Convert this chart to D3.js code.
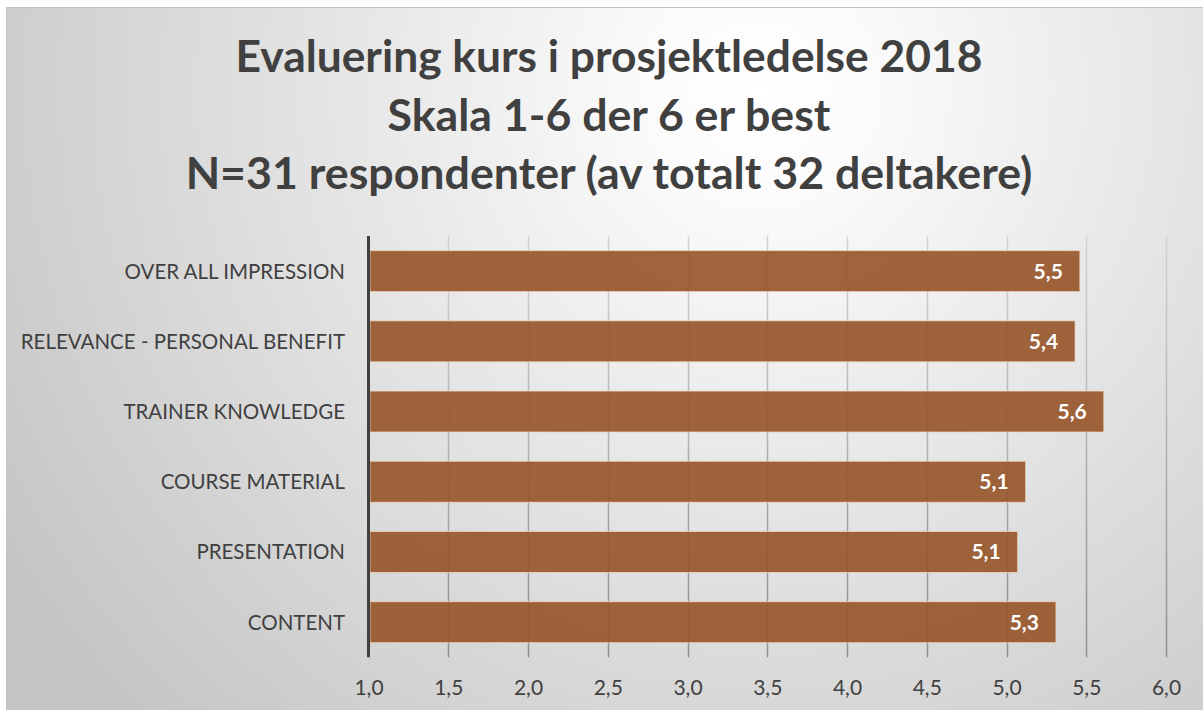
<!DOCTYPE html>
<html>
<head>
    <meta charset="UTF-8">
    <title>Evaluering kurs i prosjektledelse 2018</title>
    <style>
        body { margin: 0; background: #fff; font-family: Lato, 'Open Sans', sans-serif; }
        .title text { font-weight: bold; fill: #404040; text-anchor: middle; }
        .cat text { fill: #404040; text-anchor: end; font-size: 20.5px; }
        .tick text { fill: #404040; font-size: 21px; }
        .barlabel { fill: #fff; font-weight: bold; font-size: 21px; text-anchor: end; }
    </style>
</head>
<body>
    <script src="https://d3js.org/d3.v7.min.js"></script>
    <script>
        /// data
        var categories = ["OVER ALL IMPRESSION", "RELEVANCE - PERSONAL BENEFIT", "TRAINER KNOWLEDGE",
                          "COURSE MATERIAL", "PRESENTATION", "CONTENT"];
        var scores = [5.46, 5.43, 5.61, 5.12, 5.07, 5.31];
        var scoreLabels = ["5,5", "5,4", "5,6", "5,1", "5,1", "5,3"];
        var xTicks = [1.0, 1.5, 2.0, 2.5, 3.0, 3.5, 4.0, 4.5, 5.0, 5.5, 6.0];
        var titleLines = ["Evaluering kurs i prosjektledelse 2018",
                          "Skala 1-6 der 6 er best",
                          "N=31 respondenter (av totalt 32 deltakere)"];

        var width = 1203, height = 710;
        var plot = {left: 368.5, right: 1166, top: 236, bottom: 657.3};

        var svg = d3.select("body").append("svg")
            .attr("width", width)
            .attr("height", height);

        var defs = svg.append("defs");
        var bg = defs.append("radialGradient")
            .attr("id", "bg")
            .attr("gradientUnits", "userSpaceOnUse")
            .attr("cx", 760).attr("cy", 90).attr("r", 900);
        bg.append("stop").attr("offset", 0).attr("stop-color", "#ffffff");
        bg.append("stop").attr("offset", 0.12).attr("stop-color", "#fbfbfb");
        bg.append("stop").attr("offset", 1).attr("stop-color", "#c4c4c4");

        var gridGrad = defs.append("linearGradient")
            .attr("id", "gridgrad")
            .attr("gradientUnits", "userSpaceOnUse")
            .attr("x1", 0).attr("y1", plot.top).attr("x2", 0).attr("y2", plot.bottom);
        gridGrad.append("stop").attr("offset", 0).attr("stop-color", "#d2d2d2");
        gridGrad.append("stop").attr("offset", 1).attr("stop-color", "#8e8e8e");

        // chart area
        svg.append("rect")
            .attr("x", 6.5).attr("y", 7.5)
            .attr("width", width + 20).attr("height", height + 20)
            .attr("fill", "url(#bg)")
            .attr("stroke", "#c4c4c4");

        // title, each line fitted to its width in the picture
        var titleBase = [72, 131, 189];
        var titleWidth = [747, 443, 847];
        var title = svg.append("g").attr("class", "title");
        titleLines.forEach(function(t, i) {
            var txt = title.append("text")
                .attr("x", 609)
                .attr("y", titleBase[i])
                .style("font-size", "40px")
                .text(t);
            var w = txt.node().getComputedTextLength();
            txt.style("font-size", (40 * titleWidth[i] / w) + "px");
        });

        var x = d3.scaleLinear()
            .domain([1, 6])
            .range([plot.left, plot.right]);

        var y = d3.scaleBand()
            .domain(categories)
            .range([plot.top, plot.bottom])
            .paddingInner(0.416)
            .paddingOuter(0.208);

        // gridlines
        svg.append("g")
            .selectAll("line")
            .data(xTicks.slice(1))
            .enter().append("line")
            .attr("x1", function(d) { return Math.round(x(d)) + 0.5; })
            .attr("x2", function(d) { return Math.round(x(d)) + 0.5; })
            .attr("y1", plot.top)
            .attr("y2", plot.bottom)
            .attr("stroke", "url(#gridgrad)")
            .attr("stroke-width", 1.5);

        // bars
        svg.append("g")
            .selectAll("rect")
            .data(scores)
            .enter().append("rect")
            .attr("x", x(1) + 1.5)
            .attr("y", function(d, i) { return y(categories[i]); })
            .attr("width", function(d) { return x(d) - x(1) - 1.5; })
            .attr("height", y.bandwidth())
            .attr("fill", "#98572c")
            .attr("fill-opacity", 0.92)
            .attr("stroke", "#f3d9c6")
            .attr("stroke-opacity", 0.75)
            .attr("stroke-width", 1);

        // value labels
        svg.append("g")
            .selectAll("text")
            .data(scores)
            .enter().append("text")
            .attr("class", "barlabel")
            .attr("x", function(d) { return x(d) - 17; })
            .attr("y", function(d, i) { return y(categories[i]) + y.bandwidth() / 2 + 7.5; })
            .text(function(d, i) { return scoreLabels[i]; });

        // vertical axis line
        svg.append("line")
            .attr("x1", x(1)).attr("x2", x(1))
            .attr("y1", plot.top).attr("y2", plot.bottom)
            .attr("stroke", "#404040")
            .attr("stroke-width", 3);

        // category labels
        svg.append("g")
            .attr("class", "cat")
            .selectAll("text")
            .data(categories)
            .enter().append("text")
            .attr("x", 345)
            .attr("y", function(d) { return y(d) + y.bandwidth() / 2 + 7.5; })
            .text(function(d) { return d; });

        // x axis labels
        var xAxis = d3.axisBottom(x)
            .tickValues(xTicks)
            .tickSize(0)
            .tickPadding(0)
            .tickFormat(function(d) { return d3.format(".1f")(d).replace(".", ","); });

        var gx = svg.append("g")
            .attr("transform", "translate(0," + (plot.bottom + 23) + ")")
            .call(xAxis);
        gx.select(".domain").remove();
        gx.selectAll("text").attr("dy", "0.71em").style("font-family", "Lato, 'Open Sans', sans-serif");
    </script>
</body>
</html>
